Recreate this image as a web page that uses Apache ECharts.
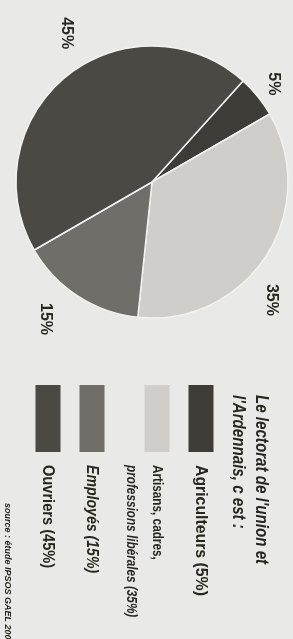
<!DOCTYPE html>
<html>
<head>
<meta charset="utf-8">
<script src="https://cdn.jsdelivr.net/npm/echarts@6/dist/echarts.min.js"></script>
<style>
html,body{margin:0;padding:0;background:#e9e9e7;}
#chart{width:293px;height:639px;}
</style>
</head>
<body>
<div id="chart"></div>
<script>
// ---- data ----
const categories = ['Agriculteurs', 'Artisans, cadres, professions libérales', 'Employés', 'Ouvriers'];
const values = [5, 35, 15, 45];
const valueLabels = ['5%', '35%', '15%', '45%'];
const legendLines = [
  ['Agriculteurs (5%)'],
  ['Artisans, cadres,', 'professions libérales (35%)'],
  ['Employés (15%)'],
  ['Ouvriers (45%)']
];
const titleLines = ["Le lectorat de l'union et", "l'Ardennais, c est :"];
const sourceText = 'source : étude IPSOS GAEL 2002';

// ---- styles ----
const colors = ['#3d3c36', '#cfcecb', '#6f6e68', '#4a4943'];
const ink = '#27261f';
const fam = "'Liberation Sans', Arial, sans-serif";
// screen-space label nudges [right, down]
const labelNudge = [[-8, 7], [-21, 27], [-16, -3], [20, -19]];
const legendFonts = [
  [{f: 'bold 17px ' + fam, s: 0.93}],
  [{f: 'bold 14px ' + fam, s: 0.84}, {f: 'italic bold 14px ' + fam, s: 0.84}],
  [{f: 'italic bold 17px ' + fam, s: 0.83}],
  [{f: 'bold 17px ' + fam, s: 0.86}]
];

const ROT = -Math.PI / 2;
const graphics = [];
// title
const titleX = [261, 238];
titleLines.forEach((t, i) => {
  graphics.push({type: 'text', x: titleX[i], y: 395, rotation: ROT, scaleX: 0.84,
    style: {text: t, font: 'italic bold 18px ' + fam, fill: ink, align: 'left', verticalAlign: 'middle'}});
});
// legend
let cx = 201;
legendLines.forEach((lines, i) => {
  graphics.push({type: 'rect', shape: {x: cx - 12.5, y: 385, width: 25, height: 67},
    style: {fill: colors[i]}});
  lines.forEach((ln, j) => {
    const lx = cx - j * 26;
    graphics.push({type: 'text', x: lx, y: 465, rotation: ROT, scaleX: legendFonts[i][j].s,
      style: {text: ln, font: legendFonts[i][j].f, fill: ink, align: 'left', verticalAlign: 'middle'}});
  });
  cx -= 44 + (lines.length - 1) * 21;
});
// source
graphics.push({type: 'text', x: 7, y: 503, rotation: ROT,
  style: {text: sourceText, font: 'italic bold 9px ' + fam, fill: ink, align: 'left', verticalAlign: 'middle'}});

const pieData = categories.map((c, i) => ({name: c, value: values[i], itemStyle: {color: colors[i]}}));

const chart = echarts.init(document.getElementById('chart'), null, {renderer: 'canvas'});
chart.setOption({
  backgroundColor: '#e9e9e7',
  animation: false,
  series: [
    {
      type: 'pie', silent: true, center: [152, 182], radius: 136, startAngle: 48, clockwise: true,
      itemStyle: {borderColor: '#f2f2f0', borderWidth: 1.5},
      label: {show: false}, labelLine: {show: false},
      data: pieData
    },
    {
      type: 'pie', silent: true, center: [152, 182], radius: [152, 176], startAngle: 48, clockwise: true,
      itemStyle: {color: 'rgba(0,0,0,0)', borderWidth: 0},
      label: {show: true, position: 'inside', rotate: -90, color: ink,
        fontFamily: fam, fontWeight: 'bold', fontSize: 16,
        formatter: p => valueLabels[p.dataIndex]},
      labelLine: {show: false},
      // label offsets are applied in the rotated label frame
      labelLayout: p => ({dx: labelNudge[p.dataIndex][1], dy: -labelNudge[p.dataIndex][0]}),
      data: categories.map((c, i) => ({name: c, value: values[i]}))
    }
  ],
  graphic: graphics
});
</script>
</body>
</html>
